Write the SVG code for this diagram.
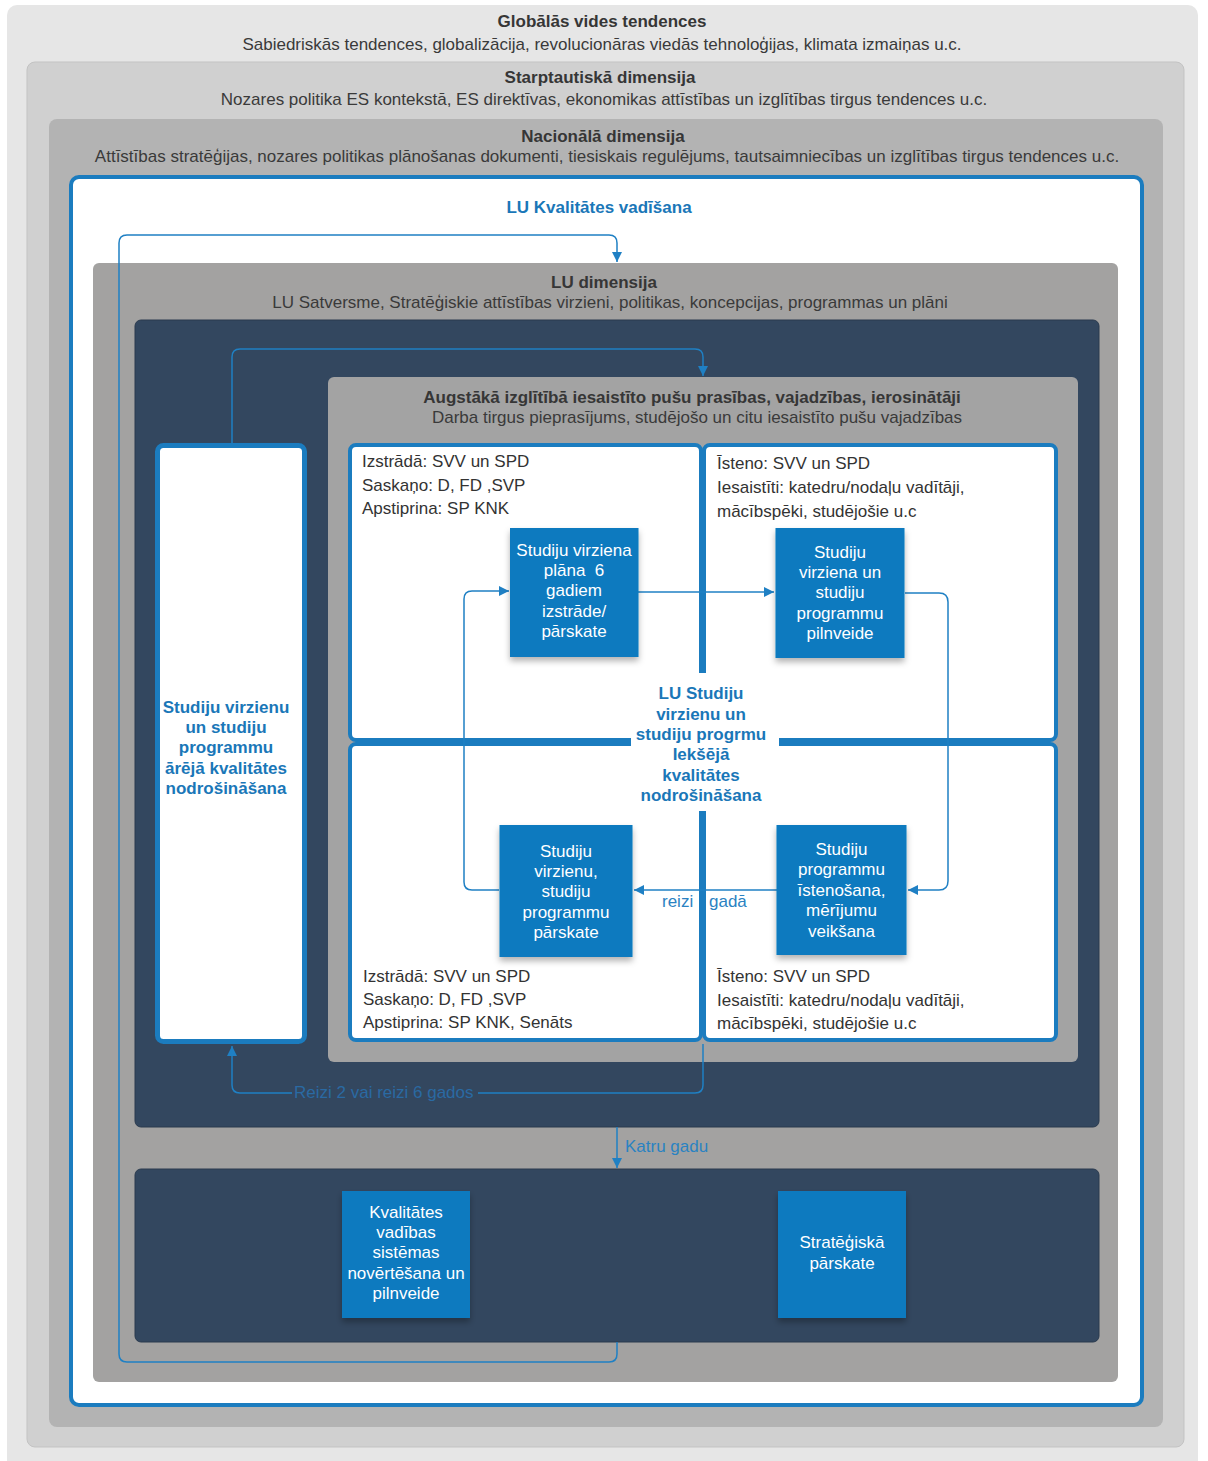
<svg xmlns="http://www.w3.org/2000/svg" width="1208" height="1461" viewBox="0 0 1208 1461">
<style>
  text { font-family: "Liberation Sans", Arial, sans-serif; font-size: 17px; }
  .hd { font-weight: bold; fill: #363636; text-anchor: middle; }
  .sub { fill: #3a3a3a; text-anchor: middle; }
  .blue { font-weight: bold; fill: #1a77b8; text-anchor: middle; }
  .corner { fill: #333333; }
  .node rect { fill: #0c7abf; }
  .node text { fill: #ffffff; text-anchor: middle; }
  .quad { fill: #ffffff; stroke: #1b7cbf; stroke-width: 4; }
  .conn { fill: none; stroke: #1f80c4; stroke-width: 1.5; }
  .navy { fill: #33475f; stroke: #2a3a4e; stroke-width: 1; }
  .lbl { fill: #2a82c2; }
</style>
<defs>
  <marker id="arr" viewBox="0 0 10 10" refX="10" refY="5" markerWidth="10" markerHeight="10" markerUnits="userSpaceOnUse" orient="auto">
    <path d="M0,0 L10,5 L0,10 z" fill="#1f80c4"/>
  </marker>
  <filter id="sh" x="-20%" y="-20%" width="140%" height="150%">
    <feDropShadow dx="0" dy="4" stdDeviation="3" flood-color="#000" flood-opacity="0.3"/>
  </filter>
</defs>
<rect width="1208" height="1461" fill="#ffffff"/>

<g id="layer-global">
  <rect x="7" y="5" width="1191" height="1470" rx="10" fill="#e6e6e6"/>
  <text class="hd" x="602" y="27">Globālās vides tendences</text>
  <text class="sub" x="602" y="50">Sabiedriskās tendences, globalizācija, revolucionāras viedās tehnoloģijas, klimata izmaiņas u.c.</text>
</g>
<g id="layer-international">
  <rect x="27" y="62" width="1157" height="1385" rx="8" fill="#d0d0d0" stroke="#c3c3c3" stroke-width="1"/>
  <text class="hd" x="600" y="83">Starptautiskā dimensija</text>
  <text class="sub" x="604" y="105">Nozares politika ES kontekstā, ES direktīvas, ekonomikas attīstības un izglītības tirgus tendences u.c.</text>
</g>
<g id="layer-national">
  <rect x="49" y="119" width="1114" height="1308" rx="8" fill="#b3b3b3"/>
  <text class="hd" x="603" y="142">Nacionālā dimensija</text>
  <text class="sub" x="607" y="162">Attīstības stratēģijas, nozares politikas plānošanas dokumenti, tiesiskais regulējums, tautsaimniecības un izglītības tirgus tendences u.c.</text>
</g>
<g id="lu-quality">
  <rect x="71" y="177" width="1071" height="1228" rx="8" fill="#ffffff" stroke="#1b7cbf" stroke-width="4"/>
  <text class="blue" x="599" y="213">LU Kvalitātes vadīšana</text>
</g>
<g id="lu-dimension">
  <rect x="93" y="263" width="1025" height="1119" rx="6" fill="#a3a2a1"/>
  <text class="hd" x="604" y="288">LU dimensija</text>
  <text class="sub" x="610" y="308">LU Satversme, Stratēģiskie attīstības virzieni, politikas, koncepcijas, programmas un plāni</text>
</g>
<g id="navy-top">
  <rect class="navy" x="135" y="320" width="964" height="807" rx="6"/>
</g>
<g id="stakeholders">
  <rect x="328" y="377" width="750" height="685" rx="6" fill="#a3a3a3"/>
  <text class="hd" x="692" y="403">Augstākā izglītībā iesaistīto pušu prasības, vajadzības, ierosinātāji</text>
  <text class="sub" x="697" y="423">Darba tirgus pieprasījums, studējošo un citu iesaistīto pušu vajadzības</text>
</g>
<g id="navy-bottom">
  <rect class="navy" x="135" y="1169" width="964" height="173" rx="6"/>
</g>

<g id="external-qa">
  <rect x="157.5" y="445.5" width="147" height="596" rx="6" fill="#ffffff" stroke="#1b7cbf" stroke-width="5"/>
  <text class="blue" x="226" y="712.5">Studiju virzienu</text>
  <text class="blue" x="226" y="733">un studiju</text>
  <text class="blue" x="226" y="753">programmu</text>
  <text class="blue" x="226" y="773.5">ārējā kvalitātes</text>
  <text class="blue" x="226" y="794">nodrošināšana</text>
</g>

<g id="quad-tl">
  <rect class="quad" x="350" y="445" width="351" height="295" rx="6"/>
  <text class="corner" x="362" y="467">Izstrādā: SVV un SPD</text>
  <text class="corner" x="362" y="490.5">Saskaņo: D, FD ,SVP</text>
  <text class="corner" x="362" y="514">Apstiprina: SP KNK</text>
</g>
<g id="quad-tr">
  <rect class="quad" x="704" y="445" width="352" height="295" rx="6"/>
  <text class="corner" x="717" y="469">Īsteno: SVV un SPD</text>
  <text class="corner" x="717" y="493">Iesaistīti: katedru/nodaļu vadītāji,</text>
  <text class="corner" x="717" y="517">mācībspēki, studējošie u.c</text>
</g>
<g id="quad-bl">
  <rect class="quad" x="350" y="744" width="351" height="296" rx="6"/>
  <text class="corner" x="363" y="981.5">Izstrādā: SVV un SPD</text>
  <text class="corner" x="363" y="1005">Saskaņo: D, FD ,SVP</text>
  <text class="corner" x="363" y="1028">Apstiprina: SP KNK, Senāts</text>
</g>
<g id="quad-br">
  <rect class="quad" x="704" y="744" width="352" height="296" rx="6"/>
  <text class="corner" x="717" y="982">Īsteno: SVV un SPD</text>
  <text class="corner" x="717" y="1005.5">Iesaistīti: katedru/nodaļu vadītāji,</text>
  <text class="corner" x="717" y="1028.5">mācībspēki, studējošie u.c</text>
</g>
<g id="internal-qa">
  <rect x="631" y="673" width="148" height="138" fill="#ffffff"/>
  <text class="blue" x="701" y="699">LU Studiju</text>
  <text class="blue" x="701" y="719.5">virzienu un</text>
  <text class="blue" x="701" y="740">studiju progrmu</text>
  <text class="blue" x="701" y="760">Iekšējā</text>
  <text class="blue" x="701" y="780.5">kvalitātes</text>
  <text class="blue" x="701" y="801">nodrošināšana</text>
</g>

<g id="connectors">
  <path class="conn" d="M617,1342 V1354 Q617,1362 609,1362 H127 Q119,1362 119,1354 V243 Q119,235 127,235 H609 Q617,235 617,243 V262" marker-end="url(#arr)"/>
  <path class="conn" d="M232,443 V357 Q232,349 240,349 H695 Q703,349 703,357 V376" marker-end="url(#arr)"/>
  <path class="conn" d="M703,1044 V1085 Q703,1093 695,1093 H240 Q232,1093 232,1085 V1046" marker-end="url(#arr)"/>
  <path class="conn" d="M617,1127 V1168" marker-end="url(#arr)"/>
  <path class="conn" d="M638,592 H774" marker-end="url(#arr)"/>
  <path class="conn" d="M905,593 H939 Q948,593 948,602 V881 Q948,890 939,890 H908" marker-end="url(#arr)"/>
  <path class="conn" d="M777,890 H634" marker-end="url(#arr)"/>
  <path class="conn" d="M499,890 H472 Q464,890 464,882 V599 Q464,591 472,591 H509" marker-end="url(#arr)"/>
  <rect x="292" y="1083" width="186" height="20" fill="#33475f"/>
  <text x="294" y="1098" fill="#2a6aa3">Reizi 2 vai reizi 6 gados</text>
  <text class="lbl" x="625" y="1152">Katru gadu</text>
  <text class="lbl" x="662" y="907">reizi <tspan x="709">gadā</tspan></text>
</g>

<g id="node-plan" class="node">
  <rect x="510" y="528" width="128.5" height="129" filter="url(#sh)"/>
  <text x="574" y="555.5">Studiju virziena</text>
  <text x="574" y="576" xml:space="preserve">plāna  6</text>
  <text x="574" y="596">gadiem</text>
  <text x="574" y="616.5">izstrāde/</text>
  <text x="574" y="637">pārskate</text>
</g>
<g id="node-improve" class="node">
  <rect x="775.5" y="528" width="129" height="130" filter="url(#sh)"/>
  <text x="840" y="557.5">Studiju</text>
  <text x="840" y="578">virziena un</text>
  <text x="840" y="598">studiju</text>
  <text x="840" y="618.5">programmu</text>
  <text x="840" y="639">pilnveide</text>
</g>
<g id="node-review" class="node">
  <rect x="499.5" y="825" width="133" height="132" filter="url(#sh)"/>
  <text x="566" y="856.5">Studiju</text>
  <text x="566" y="877">virzienu,</text>
  <text x="566" y="897">studiju</text>
  <text x="566" y="917.5">programmu</text>
  <text x="566" y="938">pārskate</text>
</g>
<g id="node-implement" class="node">
  <rect x="776.5" y="825" width="130" height="130" filter="url(#sh)"/>
  <text x="841.5" y="854.5">Studiju</text>
  <text x="841.5" y="875">programmu</text>
  <text x="841.5" y="895.5">īstenošana,</text>
  <text x="841.5" y="916">mērījumu</text>
  <text x="841.5" y="936.5">veikšana</text>
</g>
<g id="node-qms" class="node">
  <rect x="342" y="1191" width="128" height="127" filter="url(#sh)"/>
  <text x="406" y="1217.5">Kvalitātes</text>
  <text x="406" y="1238">vadības</text>
  <text x="406" y="1258">sistēmas</text>
  <text x="406" y="1278.5">novērtēšana un</text>
  <text x="406" y="1299">pilnveide</text>
</g>
<g id="node-strategic" class="node">
  <rect x="778" y="1191" width="128" height="127" filter="url(#sh)"/>
  <text x="842" y="1248">Stratēģiskā</text>
  <text x="842" y="1268.5">pārskate</text>
</g>
</svg>
